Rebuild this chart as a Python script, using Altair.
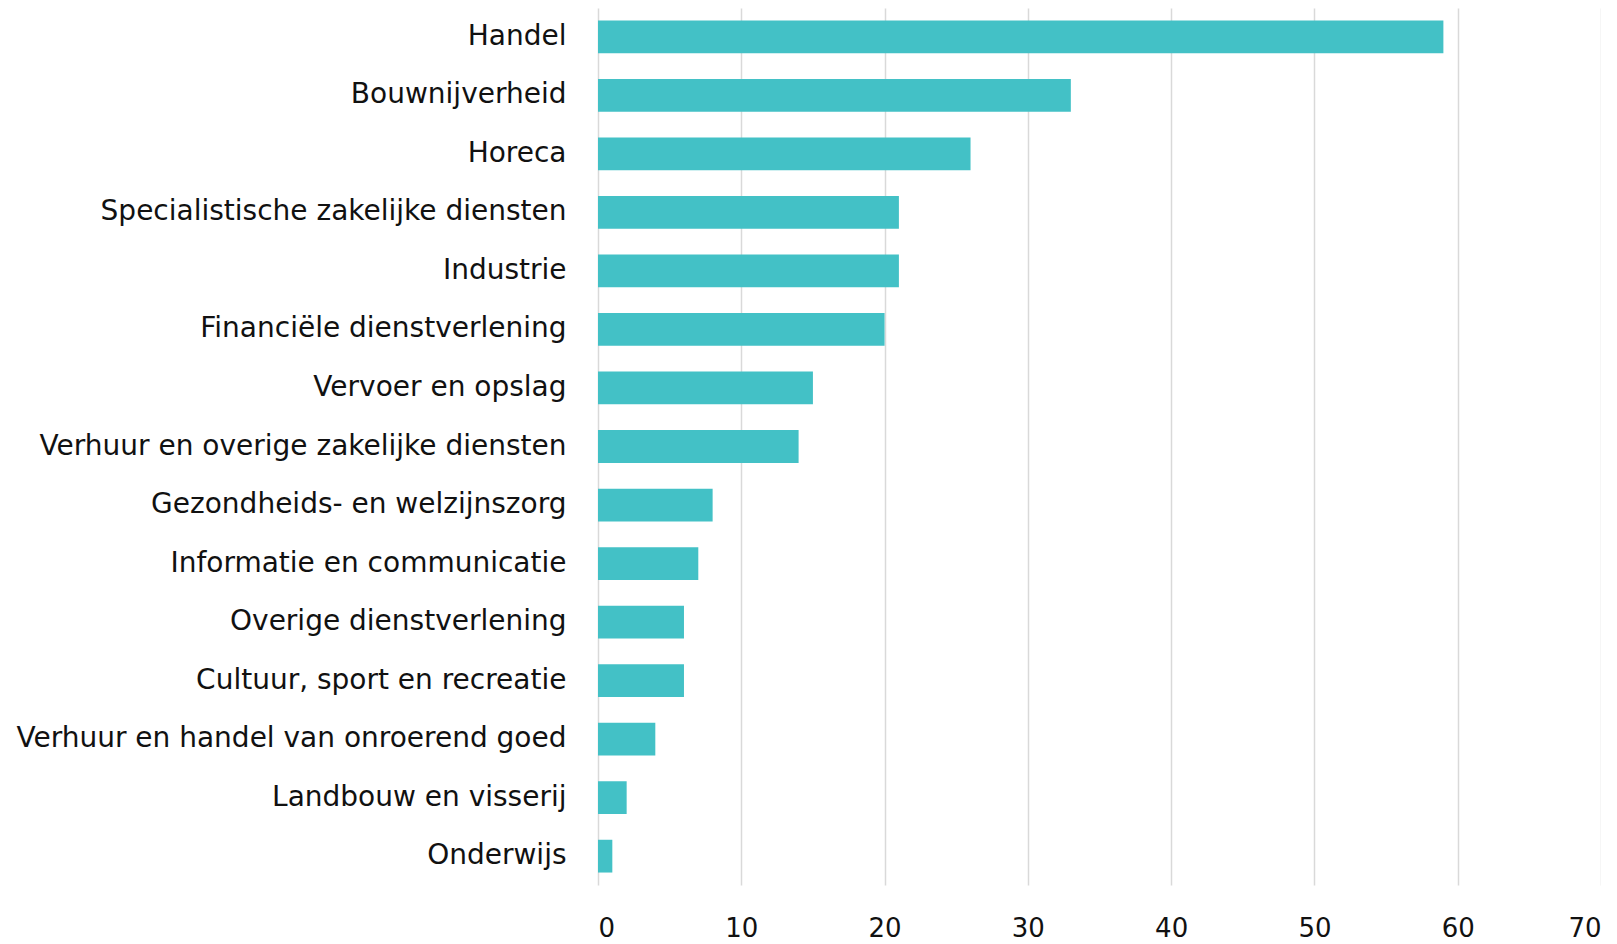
import altair as alt
import pandas as pd

categories = [
    "Handel",
    "Bouwnijverheid",
    "Horeca",
    "Specialistische zakelijke diensten",
    "Industrie",
    "Financiële dienstverlening",
    "Vervoer en opslag",
    "Verhuur en overige zakelijke diensten",
    "Gezondheids- en welzijnszorg ",
    "Informatie en communicatie",
    "Overige dienstverlening",
    "Cultuur, sport en recreatie",
    "Verhuur en handel van onroerend goed",
    "Landbouw en visserij",
    "Onderwijs",
]
values = [59, 33, 26, 21, 21, 20, 15, 14, 8, 7, 6, 6, 4, 2, 1]
x_ticks = [0, 10, 20, 30, 40, 50, 60, 70]

df = pd.DataFrame({"sector": categories, "waarde": values})

FONT = "DejaVu Sans"

chart = (
    alt.Chart(df)
    .mark_bar(color="#43C1C6")
    .encode(
        x=alt.X(
            "waarde:Q",
            scale=alt.Scale(domain=[0, 70], nice=False),
            axis=alt.Axis(
                values=x_ticks,
                title=None,
                domain=False,
                ticks=False,
                grid=True,
                gridColor="#d9d9d9",
                gridWidth=1.5,
                labelFontSize=26,
                labelFont=FONT,
                labelColor="#111111",
                labelPadding=30,
            ),
        ),
        y=alt.Y(
            "sector:N",
            sort=categories,
            scale=alt.Scale(paddingInner=0.44, paddingOuter=0.213),
            axis=alt.Axis(
                title=None,
                domain=False,
                ticks=False,
                grid=False,
                labelFontSize=28,
                labelFont=FONT,
                labelColor="#111111",
                labelPadding=32,
                labelLimit=900,
            ),
        ),
    )
    .properties(
        width=1003,
        height=877,
        padding={"left": 7, "top": 0, "right": 0, "bottom": 0},
    )
    .configure_view(stroke=None, strokeWidth=0)
)

chart.save("out.html", embed_options={"renderer": "svg", "actions": False})
